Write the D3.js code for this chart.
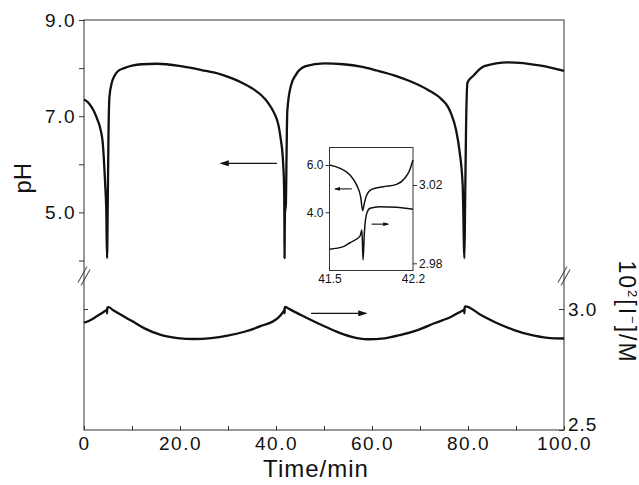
<!DOCTYPE html>
<html>
<head>
<meta charset="utf-8">
<script src="https://cdn.jsdelivr.net/npm/d3@7"></script>
<style>
  body { margin: 0; background: #fff; }
  svg text { font-family: "Liberation Sans", Arial, sans-serif; fill: #111; }
</style>
</head>
<body>
<svg id="chart" width="639" height="485"></svg>
<script>
// pH trace (upper panel), time in min
const phTime = [0, 1, 2, 2.8, 3.5, 3.9, 4.4, 4.65, 4.8, 4.95, 5.1, 5.3, 5.8, 6.3, 7, 8.4, 10, 12, 15.3, 20.2,
  24.5, 28.5, 31, 33, 35, 36.9, 38.4, 39.6, 40.5, 41.0, 41.5, 41.67, 41.73, 41.76, 41.78, 41.85, 42.06, 42.2, 42.35, 43.1, 44.2,
  46.2, 50, 54, 57.7, 61, 64.6, 68.1, 71.6, 74.4, 75.8, 76.5, 77.5, 78.2, 78.9, 79.25, 79.4, 79.6, 79.9, 81, 83.4, 88.3, 95.2, 100];
const phValue = [7.35, 7.27, 7.12, 6.93, 6.7, 6.45, 5.6, 5.0, 4.05, 5.2, 6.6, 7.4, 7.7, 7.83, 7.93, 8.0, 8.05, 8.08, 8.09, 8.04,
  7.96, 7.87, 7.78, 7.69, 7.58, 7.44, 7.27, 7.07, 6.82, 6.52, 6.0, 5.58, 5.15, 4.66, 4.05, 4.97, 5.18, 6.2, 7.1, 7.63, 7.87,
  8.04, 8.10, 8.08, 8.03, 7.95, 7.85, 7.72, 7.55, 7.36, 7.2, 7.05, 6.72, 6.3, 5.55, 4.05, 5.2, 6.8, 7.7, 7.83, 8.04, 8.12, 8.05, 7.94];

// 10^2 [I-] / M trace (lower panel)
const iodTime = [0, 1.5, 2.5, 3.5, 4.6, 4.75, 4.8, 4.85, 5.1, 6, 7.7, 10, 12.6, 16, 19.5, 23, 26.5, 29.9, 33.4, 36.9,
  40.3, 41.5, 41.77, 41.78, 41.81, 41.92, 42.4, 45.2, 48.7, 52.2, 55.6, 59.1, 62.6, 66, 69.5, 73, 76.5, 78.9, 79.2, 79.25,
  79.3, 79.45, 82.7, 86.1, 89.6, 93.1, 96.6, 100];
const iodValue = [2.943, 2.956, 2.968, 2.980, 2.995, 2.997, 2.982, 3.005, 3.008, 2.996, 2.976, 2.950, 2.920, 2.893, 2.880, 2.876, 2.880, 2.890, 2.906, 2.930,
  2.961, 2.988, 2.997, 2.982, 3.005, 3.009, 3.004, 2.975, 2.941, 2.910, 2.886, 2.875, 2.879, 2.893, 2.913, 2.941, 2.968, 2.994, 2.997, 2.982,
  3.006, 3.011, 2.975, 2.941, 2.913, 2.893, 2.881, 2.878];

// inset: zoom on the second pH drop
const insetPhTime = [41.5, 41.589, 41.672, 41.728, 41.761, 41.778, 41.792, 41.812, 41.853, 41.95, 42.062, 42.131, 42.173, 42.2];
const insetPhValue = [6.0, 5.86, 5.58, 5.15, 4.66, 4.07, 4.38, 4.73, 4.97, 5.08, 5.18, 5.44, 5.79, 6.21];
const insetIodTime = [41.5, 41.617, 41.672, 41.756, 41.772, 41.781, 41.792, 41.812, 41.84, 41.92, 42.06, 42.2];
const insetIodValue = [2.9872, 2.9885, 2.9905, 2.9939, 2.997, 2.9817, 2.9953, 3.0055, 3.0081, 3.0089, 3.0086, 3.0076];

// ticks
const timeTicks = [0, 10, 20, 30, 40, 50, 60, 70, 80, 90, 100];
const timeLabels = { 0: '0', 20: '20.0', 40: '40.0', 60: '60.0', 80: '80.0', 100: '100.0' };
const phTicks = [4, 5, 6, 7, 8, 9];
const phLabels = { 9: '9.0', 7: '7.0', 5: '5.0' };
const iodTicks = [2.5, 3.0];
const iodLabels = { 2.5: '2.5', 3: '3.0' };
const insetTimeLabels = [41.5, 42.2];
const insetPhTicks = [4, 6];
const insetIodTicks = [2.98, 3.02];

// direction arrows: [level, tail time, head time]
const phArrow = [6.02, 40.2, 28.5];
const iodArrow = [2.982, 47.3, 58.8];
const insetPhArrow = [4.99, 41.687, 41.547];
const insetIodArrow = [3.0, 41.853, 41.992];

const svg = d3.select('#chart');
const ink = '#111';

// main scales
const x = d3.scaleLinear().domain([0, 100]).range([84, 564]);
const yPh = d3.scaleLinear().domain([4, 9]).range([260.5, 20]);
const yIod = d3.scaleLinear().domain([2.5, 3.0]).range([430, 309]);

// arrow head marker
const defs = svg.append('defs');
defs.append('marker')
  .attr('id', 'head')
  .attr('markerUnits', 'userSpaceOnUse')
  .attr('markerWidth', 9).attr('markerHeight', 6)
  .attr('refX', 8).attr('refY', 3)
  .attr('orient', 'auto')
  .append('path').attr('d', 'M0,0 L9,3 L0,6 Z').attr('fill', ink);
defs.append('marker')
  .attr('id', 'headSmall')
  .attr('markerUnits', 'userSpaceOnUse')
  .attr('markerWidth', 6).attr('markerHeight', 4)
  .attr('refX', 5).attr('refY', 2)
  .attr('orient', 'auto')
  .append('path').attr('d', 'M0,0 L6,2 L0,4 Z').attr('fill', ink);

// frame
svg.append('rect')
  .attr('x', x(0)).attr('y', yPh(9))
  .attr('width', x(100) - x(0)).attr('height', yIod(2.5) - yPh(9))
  .attr('fill', 'none').attr('stroke', '#333').attr('stroke-width', 1);

// axes
const styleAxis = (g, size) => {
  g.select('.domain').remove();
  g.selectAll('line').attr('stroke', '#333');
  g.selectAll('text').attr('font-size', size + 'px').attr('fill', ink)
    .attr('font-family', '"Liberation Sans", Arial, sans-serif');
};

svg.append('g')
  .attr('transform', `translate(0,${yIod(2.5)})`)
  .call(d3.axisBottom(x).tickValues(timeTicks).tickSize(-4).tickPadding(7)
    .tickFormat(d => timeLabels[d] || ''))
  .call(g => styleAxis(g, 19))
  .selectAll('text').attr('letter-spacing', '1.5px');

svg.append('g')
  .attr('transform', `translate(${x(0)},0)`)
  .call(d3.axisLeft(yPh).tickValues(phTicks).tickSize(5).tickPadding(3)
    .tickFormat(d => phLabels[d] || ''))
  .call(g => styleAxis(g, 19))
  .selectAll('text').attr('letter-spacing', '1.5px');

// small inward tick on the left side of the lower panel
svg.append('g')
  .attr('transform', `translate(${x(0)},0)`)
  .call(d3.axisLeft(yIod).tickValues([3.0]).tickSize(-4).tickFormat(''))
  .call(g => styleAxis(g, 19));

const rightAxis = svg.append('g')
  .attr('transform', `translate(${x(100)},0)`)
  .call(d3.axisRight(yIod).tickValues(iodTicks).tickSize(-5).tickPadding(4)
    .tickFormat(d => iodLabels[d]))
  .call(g => styleAxis(g, 19));
rightAxis.selectAll('text').attr('letter-spacing', '1px');
rightAxis.selectAll('.tick').filter(d => d === 2.5).select('text').attr('dy', '0em');

// axis breaks
[x(0), x(100)].forEach(bx => {
  [-1.5, 1.5].forEach(off => {
    svg.append('line')
      .attr('x1', bx - 4.5 + off).attr('y1', 284 + off)
      .attr('x2', bx + 4.5 + off).attr('y2', 268 + off)
      .attr('stroke', '#333').attr('stroke-width', 1);
  });
});

// curves
const phLine = d3.line().x(d => x(d[0])).y(d => yPh(d[1])).curve(d3.curveMonotoneX);
const iodLine = d3.line().x(d => x(d[0])).y(d => yIod(d[1])).curve(d3.curveMonotoneX);

svg.append('path')
  .datum(d3.zip(phTime, phValue))
  .attr('d', phLine)
  .attr('fill', 'none').attr('stroke', ink).attr('stroke-width', 2.3)
  .attr('stroke-linejoin', 'round');

svg.append('path')
  .datum(d3.zip(iodTime, iodValue))
  .attr('d', iodLine)
  .attr('fill', 'none').attr('stroke', ink).attr('stroke-width', 2.3)
  .attr('stroke-linejoin', 'round');

// main arrows
svg.append('line')
  .attr('x1', x(phArrow[1])).attr('x2', x(phArrow[2]))
  .attr('y1', yPh(phArrow[0])).attr('y2', yPh(phArrow[0]))
  .attr('stroke', ink).attr('stroke-width', 1.4).attr('marker-end', 'url(#head)');
svg.append('line')
  .attr('x1', x(iodArrow[1])).attr('x2', x(iodArrow[2]))
  .attr('y1', yIod(iodArrow[0])).attr('y2', yIod(iodArrow[0]))
  .attr('stroke', ink).attr('stroke-width', 1.4).attr('marker-end', 'url(#head)');

// axis titles
svg.append('text')
  .attr('transform', `translate(31,${(yPh(9) + yPh(4)) / 2 + 38}) rotate(-90)`)
  .attr('text-anchor', 'middle')
  .attr('font-size', '24px')
  .text('pH');

svg.append('text')
  .attr('x', 316).attr('y', 477)
  .attr('text-anchor', 'middle')
  .attr('font-size', '24px')
  .attr('letter-spacing', '1px')
  .text('Time/min');

const iodTitle = svg.append('text')
  .attr('transform', `translate(619,${312}) rotate(90)`)
  .attr('text-anchor', 'middle')
  .attr('font-size', '23px')
  .attr('letter-spacing', '2px');
iodTitle.append('tspan').text('10');
iodTitle.append('tspan').attr('font-size', '13px').attr('dy', '-9').text('2');
iodTitle.append('tspan').attr('dy', '9').text('[I');
iodTitle.append('tspan').attr('font-size', '13px').attr('dy', '-9').text('−');
iodTitle.append('tspan').attr('dy', '9').text(']/M');

// inset
const xIn = d3.scaleLinear().domain([41.5, 42.2]).range([329.5, 413]);
const yInPh = d3.scaleLinear().domain([4, 6]).range([212.3, 165]);
const yInIod = d3.scaleLinear().domain([2.98, 3.02]).range([263.3, 185]);
const insetTop = 147.5, insetBottom = 270.5;

svg.append('rect')
  .attr('x', xIn(41.5)).attr('y', insetTop)
  .attr('width', xIn(42.2) - xIn(41.5)).attr('height', insetBottom - insetTop)
  .attr('fill', '#fff').attr('stroke', '#333').attr('stroke-width', 1);

svg.append('g')
  .attr('transform', `translate(${xIn(41.5)},0)`)
  .call(d3.axisLeft(yInPh).tickValues(insetPhTicks).tickSize(4).tickPadding(2)
    .tickFormat(d3.format('.1f')))
  .call(g => styleAxis(g, 12));

svg.append('g')
  .attr('transform', `translate(${xIn(42.2)},0)`)
  .call(d3.axisRight(yInIod).tickValues(insetIodTicks).tickSize(4).tickPadding(2)
    .tickFormat(d3.format('.2f')))
  .call(g => styleAxis(g, 12));

svg.append('g')
  .attr('transform', `translate(0,${insetBottom})`)
  .call(d3.axisBottom(xIn).tickValues(insetTimeLabels).tickSize(0).tickPadding(4)
    .tickFormat(d3.format('.1f')))
  .call(g => styleAxis(g, 12));

const inPhLine = d3.line().x(d => xIn(d[0])).y(d => yInPh(d[1])).curve(d3.curveMonotoneX);
const inIodLine = d3.line().x(d => xIn(d[0])).y(d => yInIod(d[1])).curve(d3.curveMonotoneX);

svg.append('path')
  .datum(d3.zip(insetPhTime, insetPhValue))
  .attr('d', inPhLine)
  .attr('fill', 'none').attr('stroke', ink).attr('stroke-width', 1.5);
svg.append('path')
  .datum(d3.zip(insetIodTime, insetIodValue))
  .attr('d', inIodLine)
  .attr('fill', 'none').attr('stroke', ink).attr('stroke-width', 1.5);

svg.append('line')
  .attr('x1', xIn(insetPhArrow[1])).attr('x2', xIn(insetPhArrow[2]))
  .attr('y1', yInPh(insetPhArrow[0])).attr('y2', yInPh(insetPhArrow[0]))
  .attr('stroke', ink).attr('stroke-width', 1.1).attr('marker-end', 'url(#headSmall)');
svg.append('line')
  .attr('x1', xIn(insetIodArrow[1])).attr('x2', xIn(insetIodArrow[2]))
  .attr('y1', yInIod(insetIodArrow[0])).attr('y2', yInIod(insetIodArrow[0]))
  .attr('stroke', ink).attr('stroke-width', 1.1).attr('marker-end', 'url(#headSmall)');
</script>
</body>
</html>
